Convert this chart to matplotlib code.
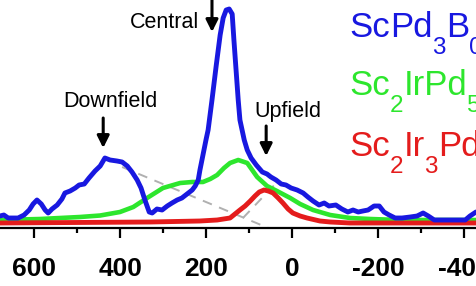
import matplotlib
matplotlib.use("Agg")
import matplotlib.pyplot as plt
from matplotlib.ticker import FixedLocator, MultipleLocator

plt.rcParams['font.family'] = ['Liberation Sans', 'DejaVu Sans']
plt.rcParams['axes.unicode_minus'] = False

# ---- data (shift in ppm, intensity in arbitrary units) ----
blue_x = [680, 671, 661, 638, 624, 612, 603, 594, 584, 575, 568, 559, 547, 536, 529, 517, 505, 496,
          484, 473, 459, 447, 436, 424, 408, 396, 384, 373, 361, 352, 343, 333, 326, 315, 303, 291,
          280, 268, 257, 245, 233, 226, 219, 215, 208, 201, 196, 187, 177, 168, 161, 154, 147, 140,
          136, 131, 126, 122, 117, 112, 105, 96, 84, 70, 59, 50, 38, 26, 15, 3, -11, -25, -36, -48,
          -62, -74, -85, -101, -115, -129, -141, -153, -164, -176, -190, -202, -213, -225, -239,
          -255, -274, -290, -304, -316, -330, -355, -378, -402, -413, -427]
blue_y = [12, 13, 10, 10, 13, 18, 24, 28, 24, 18, 15, 19, 23, 29, 35, 37, 40, 43,
          44, 50, 57, 62, 70, 68, 67, 66, 62, 56, 48, 40, 28, 16, 15, 19, 18, 22,
          25, 28, 30, 34, 38, 42, 48, 58, 73, 88, 98, 128, 163, 193, 210, 218, 219, 214,
          188, 158, 128, 108, 98, 88, 78, 70, 63, 56, 54, 51, 48, 44, 43, 40, 38, 35, 31, 27,
          23, 25, 22, 23, 19, 16, 18, 16, 17, 18, 22, 22, 16, 13, 10,
          10, 11, 12, 15, 12, 8, 8, 8, 8, 12, 16]

green_x = [680, 587, 494, 447, 401, 370, 338, 301, 261, 233, 208, 191, 175, 159, 145, 126, 105,
           82, 59, 36, 5, -18, -48, -88, -134, -181, -250, -427]
green_y = [8, 9, 11, 12.5, 16, 21, 30, 40, 45, 46, 46, 49, 53, 60, 65, 68, 65,
           51, 42, 37, 30, 24, 18, 13, 10, 9, 8, 8]

red_x = [680, 331, 215, 175, 145, 122, 110, 98, 87, 77, 66, 56, 45, 33, 22, 10, -1, -18, -34,
         -64, -88, -134, -427]
red_y = [5, 6, 7, 8, 10, 18, 22, 27, 32, 36, 38, 37, 35, 30, 25, 19, 15, 12, 10,
         7, 6, 5, 5]

dashA_x = [396, 56]
dashA_y = [61, 0]
dashB_x = [115, 42]
dashB_y = [10, 43]

major_ticks = [600, 400, 200, 0, -200, -400]
major_labels = ['600', '400', '200', '0', '-200', '-400']

series_labels = [
    [("Sc", False), ("Pd", False), ("3", True), ("B", False), ("0.5", True)],
    [("Sc", False), ("2", True), ("IrPd", False), ("5", True), ("B", False)],
    [("Sc", False), ("2", True), ("Ir", False), ("3", True), ("Pd", False), ("2", True)],
]
series_colors = ['#1818e0', '#2de62d', '#e41c1c']

# ---- figure ----
fig = plt.figure(figsize=(4.76, 2.86), dpi=100)
ax = fig.add_axes([0, 58 / 286, 1, 228 / 286])
ax.set_xlim(680, -427)
ax.set_ylim(0, 228)

ax.plot(dashA_x, dashA_y, color='#b0b0b0', lw=1.4, ls=(0, (5, 4)), zorder=1)
ax.plot(dashB_x, dashB_y, color='#b0b0b0', lw=1.4, ls=(0, (5, 4)), zorder=1)
ax.plot(green_x, green_y, color=series_colors[1], lw=3.3, solid_joinstyle='round',
        solid_capstyle='round', zorder=2)
ax.plot(red_x, red_y, color=series_colors[2], lw=3.5, solid_joinstyle='round',
        solid_capstyle='round', zorder=3)
ax.plot(blue_x, blue_y, color=series_colors[0], lw=3.5, solid_joinstyle='round',
        solid_capstyle='round', zorder=4)

for s in ['left', 'right', 'top']:
    ax.spines[s].set_visible(False)
ax.spines['bottom'].set_linewidth(1.6)
ax.set_yticks([])
ax.xaxis.set_major_locator(FixedLocator(major_ticks))
ax.set_xticklabels(major_labels)
ax.xaxis.set_minor_locator(MultipleLocator(100))
ax.tick_params(axis='x', which='major', direction='out', length=7, width=1.6,
               labelsize=19, pad=14)
ax.tick_params(axis='x', which='minor', direction='out', length=3.8, width=1.6)
for lab in ax.get_xticklabels():
    lab.set_fontweight('bold')

# annotations
ann_kw = dict(arrowprops=dict(arrowstyle='-|>', color='k', lw=2.2, mutation_scale=18,
                              shrinkA=0, shrinkB=0))
ax.annotate('', xy=(187, 196), xytext=(187, 232), **ann_kw)
ax.annotate('', xy=(440, 80), xytext=(440, 110), **ann_kw)
ax.annotate('', xy=(61, 72), xytext=(61, 102), **ann_kw)
ax.text(297, 200, 'Central', fontsize=15.5, ha='center', va='baseline')
ax.text(424, 121, 'Downfield', fontsize=15.5, ha='center', va='baseline')
ax.text(11, 111, 'Upfield', fontsize=15.5, ha='center', va='baseline')


def rich(x, y, parts, color, size=25, subsize=17.5, subdrop=-10.5):
    first = ax.text(x, y, parts[0][0], color=color, fontsize=size, ha='left', va='baseline')
    prev = first
    for txt, sub in parts[1:]:
        prev = ax.annotate(txt, xy=(1, 0), xycoords=(prev, first),
                           xytext=(0, subdrop if sub else 0), textcoords='offset points',
                           color=color, fontsize=subsize if sub else size,
                           ha='left', va='bottom')


label_y = [191, 133, 72]
for parts, c, yy in zip(series_labels, series_colors, label_y):
    rich(-132, yy, parts, c)

fig.savefig('out.png', dpi=100)
